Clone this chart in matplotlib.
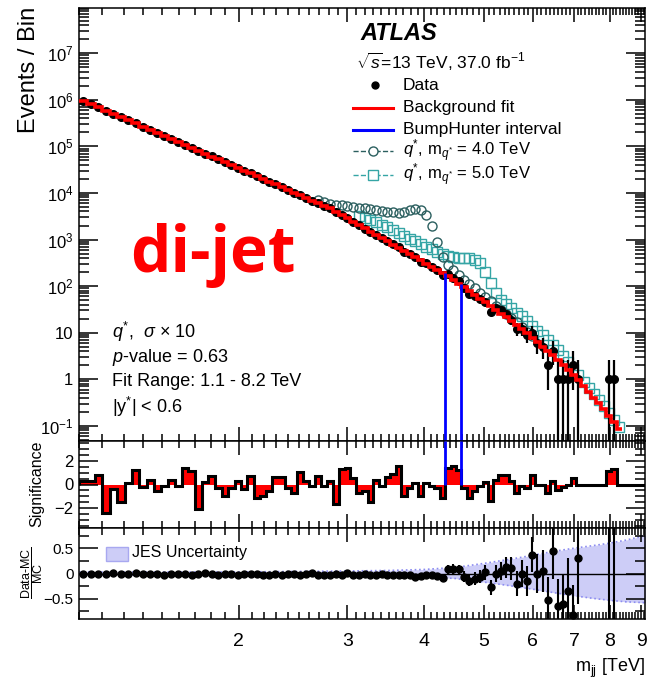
"""ATLAS di-jet mass spectrum with significance and data/MC panels."""

import numpy as np
import matplotlib
matplotlib.use('Agg')
import matplotlib.pyplot as plt
from matplotlib.lines import Line2D
from matplotlib.patches import Rectangle
from matplotlib.ticker import FixedLocator, NullFormatter, LogLocator

plt.rcParams['font.family'] = ['Liberation Sans', 'DejaVu Sans']
plt.rcParams['mathtext.fontset'] = 'custom'
plt.rcParams['mathtext.rm'] = 'Liberation Sans'
plt.rcParams['mathtext.it'] = 'Liberation Sans:italic'
plt.rcParams['mathtext.bf'] = 'Liberation Sans:bold'

# bin edges in GeV (last few only used by the significance panel)
EDGES_GEV = [1100, 1133, 1166, 1200, 1234, 1269, 1305, 1341, 1378, 1416,
             1454, 1493, 1533, 1573, 1614, 1656, 1698, 1741, 1785, 1830,
             1875, 1921, 1968, 2016, 2065, 2114, 2164, 2215, 2267, 2320,
             2374, 2429, 2485, 2542, 2600, 2659, 2719, 2780, 2842, 2905,
             2969, 3034, 3100, 3167, 3235, 3305, 3376, 3448, 3521, 3596,
             3672, 3749, 3827, 3907, 3988, 4070, 4154, 4239, 4326, 4414,
             4504, 4595, 4688, 4782, 4878, 4975, 5074, 5175, 5277, 5381,
             5487, 5595, 5705, 5817, 5931, 6047, 6165, 6285, 6407, 6531,
             6658, 6787, 6918, 7052, 7188, 7326, 7467, 7610, 7756, 7904,
             8055, 8208, 8364, 8523, 8685, 8850, 9019, 9191]

BKG = [962000, 814000, 690000, 586000, 500000, 426000, 363000, 311000, 266000, 228000,
       195700, 168100, 144700, 124800, 107700, 93100, 80700, 69900, 60600, 52600,
       45800, 39800, 34700, 30150, 26240, 22880, 19970, 17440, 15230, 13310,
       11640, 10190, 8920, 7820, 6850, 6020, 5280, 4640, 3950, 3350,
       2840, 2410, 2048, 1743, 1483, 1262, 1075, 916, 781, 666,
       569, 487, 416, 356, 305, 261, 224, 192, 161, 134.5,
       112.2, 93.5, 77.5, 64.3, 53.4, 44.4, 36.9, 30.7, 25.5, 21.3,
       17.7, 14.7, 12.1, 9.72, 7.79, 6.24, 5.01, 4.02, 3.23, 2.53,
       1.98, 1.55, 1.215, 0.952, 0.724, 0.540, 0.404, 0.302, 0.224, 0.1626,
       0.118, 0.0857]

DATA = [962334, 814307, 690706, 584162, 499703, 425020, 363090, 311709, 265881, 228200,
        195452, 168059, 144860, 124751, 108163, 93463, 80104, 69961, 60787, 52536,
        45586, 39744, 34763, 30077, 26353, 22709, 19829, 17366, 15306, 13382,
        11610, 10119, 9021, 7845, 6838, 6074, 5270, 4659, 3847, 3429,
        2915, 2437, 2016, 1720, 1425, 1277, 1070, 934, 806, 706,
        545, 481, 419, 337, 307, 259, 220, 176, 179, 152,
        126, 91, 68, 60, 53, 46, 28, 33, 30, 25,
        19, 12, 12, 9, 10, 6, 5, 2, 4, 1,
        1, 1, 2, 1, 0, 0, 0, 0, 0, 1,
        1, 0]

SIG = [0.34, 0.34, 0.85, -2.4, -0.42, -1.5, 0.15, 1.27, -0.23, 0.42,
       -0.56, -0.1, 0.42, -0.14, 1.41, 1.19, -2.1, 0.23, 0.76, -0.28,
       -1.0, -0.28, 0.34, -0.42, 0.7, -1.13, -1.0, -0.56, 0.62, 0.62,
       -0.28, -0.7, 1.07, 0.28, -0.14, 0.7, -0.14, 0.28, -1.64, 1.36,
       1.41, 0.56, -0.7, -0.56, -1.5, 0.42, -0.14, 0.6, 0.9, 1.55,
       -1.0, -0.28, 0.14, -1.0, 0.14, -0.14, -0.28, -1.13, 1.41, 1.55,
       1.27, -0.28, -1.13, -0.56, -0.1, 0.23, -1.41, 0.42, 0.85, 0.85,
       0.28, -0.7, -0.14, -0.28, 0.85, -0.05, -0.05, -0.7, 0.34, -0.5,
       -0.23, -0.05, 0.56, 0.0, 0.0, 0.0, 0.0, 0.0, 0.0, 1.13,
       1.36, 0.0, 0.0, 0.0, 0.0, 0.0, 0.0]

# q* signal + background, m = 4.0 TeV (bins 35..74) and 5.0 TeV (bins 42..91)
Q4_FIRST = 35
Q4 = [6900, 6310, 5890, 5620, 5500, 5250, 5010, 4790, 4680, 4570,
      4370, 4170, 3980, 3890, 3800, 3980, 4370, 4570, 4370, 3310,
      1905, 891, 417, 282, 224, 174, 138, 110, 89, 72.4,
      58.9, 47.9, 38.0, 30.9, 25.1, 20.4, 16.6, 13.2, 10.5, 8.3]
Q5_FIRST = 42
Q5 = [3160, 2880, 2630, 2400, 2090, 1820, 1585, 1380, 1200, 1047,
      912, 794, 708, 631, 550, 490, 447, 417, 398, 398,
      398, 372, 316, 200, 115, 70.8, 50.1, 41.7, 33.1, 26.9,
      22.4, 17.8, 14.1, 11.0, 8.71, 6.92, 5.50, 4.17, 3.16, 2.29,
      1.66, 1.20, 0.871, 0.646, 0.490, 0.363, 0.263, 0.191, 0.135, 0.0955]

nan = float('nan')
RATIO = [-0.01, 0.0, -0.01, 0.0, 0.01, 0.0, -0.01, 0.01, 0.0, -0.01,
         0.0, -0.02, -0.01, 0.0, -0.01, -0.02, -0.01, 0.01, 0.0, -0.02,
         -0.01, 0.0, -0.02, -0.01, 0.0, -0.01, -0.02, -0.03, -0.01, -0.02,
         0.0, -0.01, -0.02, -0.01, 0.01, -0.02, -0.03, -0.02, -0.01, -0.02,
         0.01, -0.03, -0.02, 0.0, -0.03, -0.02, -0.01, -0.03, -0.03, -0.02,
         -0.03, -0.02, -0.07, -0.04, -0.02, -0.03, -0.05, -0.08, 0.08, 0.09,
         0.08, -0.06, -0.14, -0.1, -0.06, 0.02, -0.27, 0.0, 0.05, 0.12,
         0.1, -0.2, 0.0, -0.15, 0.37, 0.0, 0.05, -0.52, 0.44, -0.65,
         -0.6, -0.35, -0.83, 0.3, nan, nan, nan, nan, nan, 4.0,
         4.0, nan]
RATIO_ERR = [0.003, 0.003, 0.003, 0.003, 0.003, 0.003, 0.003, 0.003, 0.003, 0.003,
             0.003, 0.003, 0.003, 0.003, 0.003, 0.003, 0.003, 0.003, 0.003, 0.003,
             0.006, 0.006, 0.006, 0.006, 0.006, 0.006, 0.006, 0.006, 0.006, 0.006,
             0.006, 0.006, 0.006, 0.006, 0.006, 0.006, 0.012, 0.012, 0.012, 0.012,
             0.012, 0.012, 0.012, 0.012, 0.012, 0.012, 0.02, 0.02, 0.02, 0.02,
             0.02, 0.02, 0.02, 0.035, 0.035, 0.035, 0.035, 0.035, 0.08, 0.09,
             0.09, 0.1, 0.11, 0.12, 0.13, 0.14, 0.15, 0.17, 0.18, 0.2,
             0.22, 0.25, 0.27, 0.3, 0.35, 0.38, 0.42, 0.45, 0.55, 0.55,
             0.6, 0.65, 0.6, 0.9, 0.0, 0.0, 0.0, 0.0, 0.0, 6.0,
             6.0, 0.0]

# JES uncertainty band (relative)
BAND_M = [1.1, 2.0, 3.0, 3.5, 4.0, 4.5, 5.0, 5.5, 6.0, 6.5, 7.0, 7.5, 8.0, 8.5, 9.2]
BAND_UP = [0.03, 0.03, 0.05, 0.06, 0.08, 0.12, 0.20, 0.28, 0.36, 0.44, 0.50, 0.55, 0.60, 0.66, 0.76]
BAND_DN = [-0.03, -0.03, -0.04, -0.05, -0.06, -0.10, -0.17, -0.24, -0.31, -0.38, -0.44, -0.49, -0.53, -0.56, -0.58]

BH_INTERVAL = [4.326, 4.595]

FIG_W, FIG_H = 649, 682


def fx(px):
    return px / FIG_W


def fy(py):
    return 1 - py / FIG_H


edges = np.array(EDGES_GEV) / 1000.0
centres = np.sqrt(edges[:-1] * edges[1:])
nb = len(BKG)
data = np.array(DATA, dtype=float)

fig = plt.figure(figsize=(FIG_W / 100, FIG_H / 100), dpi=100)
left, width = fx(79), fx(645) - fx(79)
ax = fig.add_axes([left, fy(441), width, fy(8) - fy(441)])
axs = fig.add_axes([left, fy(528), width, fy(441) - fy(528)])
axr = fig.add_axes([left, fy(619), width, fy(528) - fy(619)])

x_major = [2, 3, 4, 5, 6, 7, 8, 9]
x_minor = [round(v, 1) for v in np.arange(1.1, 9.15, 0.1) if round(v, 1) not in x_major]
for a in (ax, axs, axr):
    a.set_xscale('log')
    a.set_xlim(1.1, 9.13)
    a.xaxis.set_major_locator(FixedLocator(x_major))
    a.xaxis.set_minor_locator(FixedLocator(x_minor))
    a.xaxis.set_minor_formatter(NullFormatter())
    a.tick_params(which='both', direction='in', top=True, right=True, width=1.1)
    a.tick_params(axis='x', which='major', length=10)
    a.tick_params(axis='x', which='minor', length=5)
    a.tick_params(axis='y', which='major', length=14, labelsize=12, pad=4)
    a.tick_params(axis='y', which='minor', length=7)
    for s in a.spines.values():
        s.set_linewidth(1.1)
ax.set_xticklabels([])
axs.set_xticklabels([])
axr.set_xticklabels([str(v) for v in x_major])
axr.tick_params(axis='x', which='major', labelsize=14, pad=10)

# ---- main panel
ax.set_yscale('log')
ax.set_ylim(0.047, 9.4e7)
ax.set_yticks([1e-1, 1, 10, 1e2, 1e3, 1e4, 1e5, 1e6, 1e7])
ax.set_yticklabels([r'$10^{-1}$', '1', '10', r'$10^{2}$', r'$10^{3}$', r'$10^{4}$',
                    r'$10^{5}$', r'$10^{6}$', r'$10^{7}$'])
ax.yaxis.set_minor_locator(LogLocator(base=10, subs=np.arange(2, 10), numticks=30))
ax.yaxis.set_minor_formatter(NullFormatter())

ax.plot(centres[Q5_FIRST:Q5_FIRST + len(Q5)], Q5, ls='none', marker='s', mfc='none',
        mec='#35a5a5', ms=6.5, mew=1.0, zorder=2)
ax.plot(centres[Q4_FIRST:Q4_FIRST + len(Q4)], Q4, ls='none', marker='o', mfc='none',
        mec='#2b5f5f', ms=6.5, mew=1.0, zorder=2)

ok = data[:nb] > 0
n = data[:nb][ok]
lo = np.minimum(np.sqrt(n), n * 0.999)
hi = np.sqrt(n + 0.25) + 0.5
ax.errorbar(centres[:nb][ok], n, yerr=[lo, hi], fmt='o', color='black', ms=5.5,
            elinewidth=1.6, capsize=0, zorder=3)
ax.stairs(BKG, edges[:nb + 1], baseline=None, color='red', lw=2.6, zorder=4)
ax.vlines(BH_INTERVAL, 0.047, [max(BKG[57], BKG[58]), max(BKG[60], BKG[61])],
          color='blue', lw=2, zorder=5)

# legend / labels (figure pixel coordinates)
fig.text(fx(360), fy(33), 'ATLAS', fontsize=17, fontweight='bold', fontstyle='italic',
         va='center', ha='left')
fig.text(fx(356), fy(62), r'$\sqrt{s}$=13 TeV, 37.0 fb$^{-1}$', fontsize=12.5,
         va='center', ha='left')
rows = [85, 107.5, 129.5, 151, 175]
labels = ['Data', 'Background fit', 'BumpHunter interval',
          r'$q^{*}$, m$_{q^{*}}$ = 4.0 TeV', r'$q^{*}$, m$_{q^{*}}$ = 5.0 TeV']
sizes = [12.5, 12.5, 12.5, 12, 12]
for r, t, fs in zip(rows, labels, sizes):
    fig.text(fx(403), fy(r), t, fontsize=fs, va='center', ha='left')
fig.add_artist(Line2D([fx(375)], [fy(rows[0])], marker='o', color='black', ms=5,
                      transform=fig.transFigure))
fig.add_artist(Line2D([fx(353), fx(393)], [fy(rows[1])] * 2, color='red', lw=2.2,
                      transform=fig.transFigure))
fig.add_artist(Line2D([fx(353), fx(393)], [fy(rows[2])] * 2, color='blue', lw=2.2,
                      transform=fig.transFigure))
for r, mk, c in [(rows[3], 'o', '#2b5f5f'), (rows[4], 's', '#35a5a5')]:
    fig.add_artist(Line2D([fx(353), fx(373), fx(393)], [fy(r)] * 3, color=c, lw=1,
                          ls='--', marker=mk, markevery=[1], mfc='white', mec=c,
                          ms=6.5, transform=fig.transFigure))

info = [r'$q^{*}$,  $\sigma$ × 10', r'$p$-value = 0.63', 'Fit Range: 1.1 - 8.2 TeV',
        r'|y$^{*}$| < 0.6']
for yy, t in zip([332, 357, 382, 407], info):
    fig.text(fx(112), fy(yy), t, fontsize=13, va='center', ha='left')

fig.text(fx(213), fy(256), 'di-jet', fontsize=46, fontweight='bold', color='red',
         family='Open Sans', ha='center', va='center')

fig.text(fx(29), fy(7), 'Events / Bin', rotation=90, fontsize=17, ha='center', va='top')

# ---- significance panel
axs.set_ylim(-3.7, 3.7)
axs.set_yticks([-2, 0, 2])
axs.set_yticklabels(['\u22122', '0', '2'])
axs.yaxis.set_minor_locator(FixedLocator([-3.5, -3, -2.5, -1.5, -1, -0.5, 0.5, 1, 1.5, 2.5, 3, 3.5]))
axs.stairs(SIG, edges, baseline=0, fill=True, color='red', lw=0)
axs.stairs(SIG, edges, baseline=0, color='black', lw=2.2)
axs.vlines(BH_INTERVAL, 0, 3.7, color='blue', lw=2, zorder=5)
fig.text(fx(37), fy(484), 'Significance', rotation=90, fontsize=11.5, ha='center', va='center')

# ---- data/MC panel
axr.set_ylim(-0.9, 0.9)
axr.set_yticks([-0.5, 0, 0.5])
axr.set_yticklabels(['\u22120.5', '0', '0.5'])
axr.yaxis.set_minor_locator(FixedLocator([-0.75, -0.25, 0.25, 0.75]))
axr.tick_params(axis='y', which='major', labelsize=11)
axr.fill_between(BAND_M, BAND_DN, BAND_UP, color='#cdcdf7', lw=0, zorder=1)
axr.plot(BAND_M, BAND_UP, ls=':', color='#8c8cf0', lw=1.2, zorder=1)
axr.plot(BAND_M, BAND_DN, ls=':', color='#8c8cf0', lw=1.2, zorder=1)
axr.axhline(0, color='black', lw=1, zorder=2)
rat = np.array(RATIO)
rerr = np.array(RATIO_ERR)
good = ~np.isnan(rat)
axr.errorbar(centres[:nb][good], rat[good], yerr=rerr[good], fmt='o', color='black',
             ms=5, elinewidth=1.5, capsize=0, zorder=3)
axr.add_patch(Rectangle((fx(106), fy(561)), fx(128) - fx(106), fy(547) - fy(561),
                        transform=fig.transFigure, facecolor='#cdcdf7', edgecolor='#a8a8f0',
                        lw=1, zorder=6))
fig.text(fx(132), fy(553), 'JES Uncertainty', fontsize=11.5, ha='left', va='center')
fig.text(fx(32), fy(573), r'$\dfrac{\mathrm{Data}\text{-}\mathrm{MC}}{\mathrm{MC}}$',
         rotation=90, fontsize=9, ha='center', va='center')

fig.text(fx(645), fy(668), r'm$_{\rm jj}$ [TeV]', fontsize=13, ha='right', va='center')

fig.savefig('out.png', dpi=100)
